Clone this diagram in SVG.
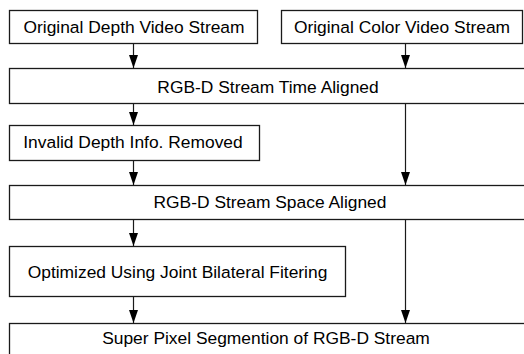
<svg xmlns="http://www.w3.org/2000/svg" width="524" height="354" viewBox="0 0 524 354">
<defs>
<style>
.box{fill:#fff;stroke:#1a1a1a;stroke-width:1.3}
.lbl{font-family:"Liberation Sans",Arial,sans-serif;font-size:17.4px;fill:#000;text-anchor:middle}
.edge{stroke:#1a1a1a;stroke-width:1.2;fill:none}
</style>
<marker id="ah" markerUnits="userSpaceOnUse" markerWidth="14" markerHeight="10" refX="13" refY="5" orient="auto" viewBox="0 0 14 10">
<path d="M0,0.5 L13,5 L0,9.5 Z" fill="#000"/>
</marker>
</defs>
<rect width="524" height="354" fill="#fff"/>
<g id="n1"><rect class="box" x="9.5" y="10.5" width="248" height="33"/><text class="lbl" x="134" y="32.5">Original Depth Video Stream</text></g>
<g id="n2"><rect class="box" x="281.5" y="10.5" width="241" height="33"/><text class="lbl" x="402" y="32.5">Original Color Video Stream</text></g>
<g id="n3"><rect class="box" x="9.5" y="68.5" width="530" height="35"/><text class="lbl" x="268" y="93">RGB-D Stream Time Aligned</text></g>
<g id="n4"><rect class="box" x="9.5" y="125.5" width="250" height="35"/><text class="lbl" x="133" y="148">Invalid Depth Info. Removed</text></g>
<g id="n5"><rect class="box" x="9.5" y="185.5" width="530" height="34"/><text class="lbl" x="270" y="208">RGB-D Stream Space Aligned</text></g>
<g id="n6"><rect class="box" x="9.5" y="246.5" width="336" height="50"/><text class="lbl" x="177.5" y="278">Optimized Using Joint Bilateral Fitering</text></g>
<g id="n7"><rect class="box" x="9.5" y="323.5" width="530" height="40"/><text class="lbl" x="266" y="344">Super Pixel Segmention of RGB-D Stream</text></g>
<g id="edges">
<line class="edge" x1="133.5" y1="43.5" x2="133.5" y2="68" marker-end="url(#ah)"/>
<line class="edge" x1="405.5" y1="43.5" x2="405.5" y2="68" marker-end="url(#ah)"/>
<line class="edge" x1="133.5" y1="103.5" x2="133.5" y2="125" marker-end="url(#ah)"/>
<line class="edge" x1="405.5" y1="103.5" x2="405.5" y2="185" marker-end="url(#ah)"/>
<line class="edge" x1="133.5" y1="160.5" x2="133.5" y2="185" marker-end="url(#ah)"/>
<line class="edge" x1="133.5" y1="219.5" x2="133.5" y2="246" marker-end="url(#ah)"/>
<line class="edge" x1="405.5" y1="219.5" x2="405.5" y2="323" marker-end="url(#ah)"/>
<line class="edge" x1="133.5" y1="296.5" x2="133.5" y2="323" marker-end="url(#ah)"/>
</g>
</svg>
